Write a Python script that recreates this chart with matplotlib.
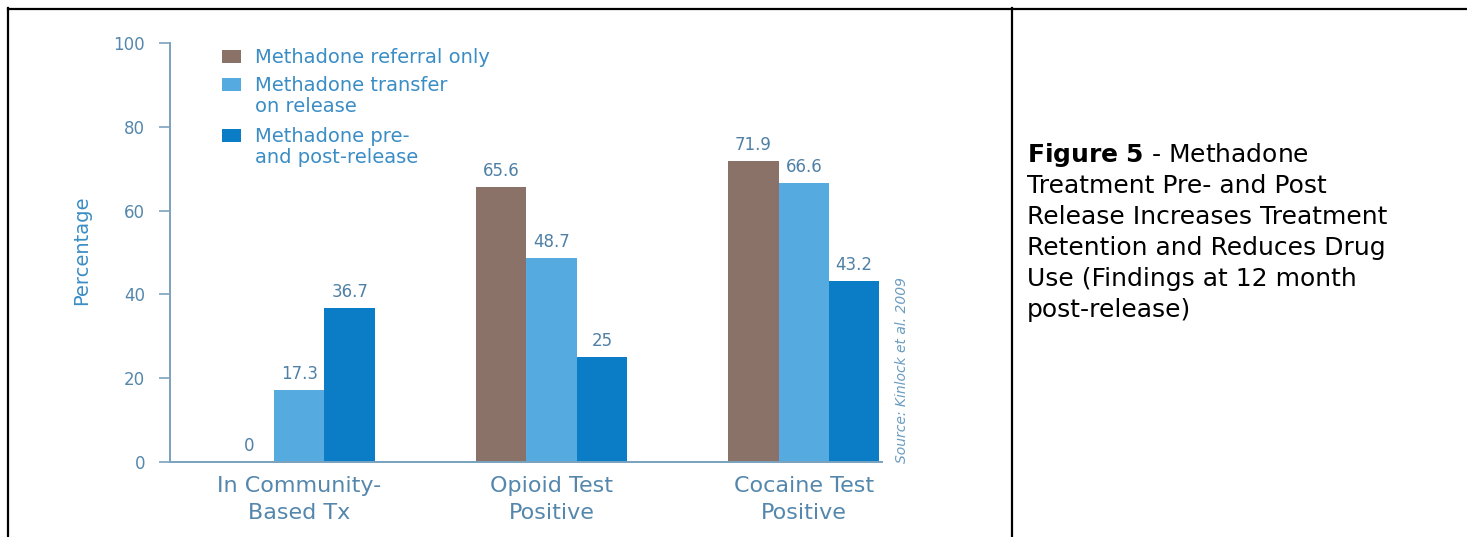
import matplotlib.pyplot as plt
from matplotlib.patches import Rectangle
from matplotlib.lines import Line2D
import numpy as np

categories = ["In Community-\nBased Tx", "Opioid Test\nPositive", "Cocaine Test\nPositive"]
series_labels = [
    ["Methadone referral only"],
    ["Methadone transfer", "on release"],
    ["Methadone pre-", "and post-release"],
]
referral_only = [0, 65.6, 71.9]
transfer_on_release = [17.3, 48.7, 66.6]
pre_and_post = [36.7, 25, 43.2]
yticks = [0, 20, 40, 60, 80, 100]

caption_lines = [
    "Treatment Pre- and Post",
    "Release Increases Treatment",
    "Retention and Reduces Drug",
    "Use (Findings at 12 month",
    "post-release)",
]

colors = ["#8a7269", "#55abdf", "#0b7dc7"]
text_blue = "#3a8dc5"
tick_blue = "#5587ad"
axis_blue = "#7aa2bd"
value_col = "#4f80a6"

W, H = 1467, 537
fig = plt.figure(figsize=(W / 100, H / 100), dpi=100)
plt.rcParams['font.family'] = 'DejaVu Sans'


def px(x, y):
    return x / W, 1 - y / H


# plot area: x 170..882, y 462..43 (pixels)
ax = fig.add_axes([170 / W, 1 - 462 / H, 712 / W, 419 / H])

x = np.arange(len(categories))
width = 0.2
all_series = [referral_only, transfer_on_release, pre_and_post]
for i, vals in enumerate(all_series):
    bars = ax.bar(x + (i - 1) * width, vals, width, color=colors[i], linewidth=0)
    for b, v in zip(bars, vals):
        ax.annotate(f"{v:g}", (b.get_x() + b.get_width() / 2, b.get_height()),
                    xytext=(0, 5), textcoords="offset points",
                    ha="center", va="bottom", fontsize=12, color=value_col)

ax.set_xlim(-0.512, 2.31)
ax.set_ylim(0, 100)
ax.set_yticks(yticks)
ax.set_xticks(x)
ax.set_xticklabels(categories, fontsize=16, color=tick_blue, linespacing=1.45)
ax.tick_params(axis="x", length=0, pad=10)
ax.tick_params(axis="y", length=8, width=1.2, color=axis_blue, pad=10,
               labelsize=12, labelcolor=tick_blue)
for s in ["top", "right"]:
    ax.spines[s].set_visible(False)
for s in ["left", "bottom"]:
    ax.spines[s].set_color(axis_blue)
    ax.spines[s].set_linewidth(1.4)

fig.text(*px(82, 250), "Percentage", rotation=90, ha="center", va="center",
         fontsize=14, color=text_blue)
fig.text(*px(902, 370), "Source: Kinlock et al. 2009", rotation=90,
         ha="center", va="center", fontsize=10, style="italic", color="#6a9cc0")

# legend
baselines = [[63], [91, 112], [142, 163]]
for i, lines in enumerate(series_labels):
    b0 = baselines[i][0]
    fig.add_artist(Rectangle(px(222, b0), 19 / W, 13 / H, transform=fig.transFigure,
                             color=colors[i], linewidth=0))
    for line, b in zip(lines, baselines[i]):
        fig.text(*px(255, b), line, ha="left", va="baseline", fontsize=14,
                 color=text_blue)

# caption
fig.text(*px(1027, 162), r"$\bf{Figure\ 5}$ - Methadone", ha="left", va="baseline",
         fontsize=18, color="black")
for k, line in enumerate(caption_lines):
    fig.text(*px(1027, 193 + 31 * k), line, ha="left", va="baseline",
             fontsize=18, color="black")

# table frame
for xs, ys in [((8, 8), (8, 537)), ((8, 1467), (9, 9)), ((1012, 1012), (8, 537))]:
    fig.add_artist(Line2D([xx / W for xx in xs], [1 - yy / H for yy in ys],
                          transform=fig.transFigure, color="black", linewidth=1.6))

fig.savefig("out.png", dpi=100)
